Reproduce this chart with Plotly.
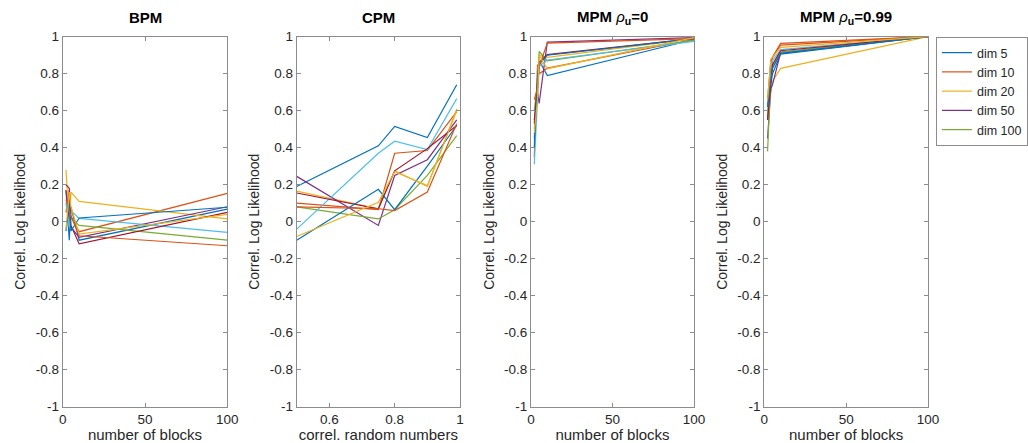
import plotly.graph_objects as go

# x values for each panel
blocks = [2, 4, 5, 10, 100]
rand_corr = [0.5, 0.75, 0.8, 0.9, 0.99]

legend_labels = ["dim 5", "dim 10", "dim 20", "dim 50", "dim 100"]

# correlation of log likelihoods, one row per run
bpm_values = [
    [0.17, -0.10, 0.08, -0.10, 0.068],
    [0.05, 0.17, 0.03, -0.054, 0.153],
    [0.28, -0.02, 0.16, 0.11, 0.015],
    [0.17, 0.00, -0.03, -0.085, 0.081],
    [0.00, 0.01, 0.02, -0.02, -0.10],
    [0.10, -0.03, 0.06, 0.018, -0.058],
    [0.20, 0.18, -0.02, -0.12, 0.05],
    [-0.05, 0.10, -0.05, 0.02, 0.078],
    [0.12, 0.05, 0.03, -0.076, -0.13],
    [-0.04, 0.16, 0.08, -0.067, 0.04],
]

cpm_values = [
    [0.19, 0.41, 0.515, 0.455, 0.74],
    [0.10, 0.065, 0.37, 0.385, 0.595],
    [0.165, 0.07, 0.275, 0.19, 0.61],
    [0.245, -0.02, 0.25, 0.335, 0.55],
    [0.08, 0.015, 0.065, 0.25, 0.465],
    [-0.04, 0.37, 0.435, 0.39, 0.665],
    [0.155, 0.07, 0.275, 0.395, 0.52],
    [-0.10, 0.175, 0.065, 0.30, 0.52],
    [0.08, 0.07, 0.06, 0.16, 0.53],
    [-0.08, 0.105, 0.27, 0.195, 0.60],
]

mpm0_values = [
    [0.45, 0.72, 0.87, 0.79, 0.985],
    [0.35, 0.85, 0.80, 0.83, 0.985],
    [0.50, 0.80, 0.90, 0.888, 0.99],
    [0.55, 0.70, 0.64, 0.971, 0.995],
    [0.60, 0.75, 0.92, 0.87, 0.98],
    [0.31, 0.68, 0.84, 0.874, 0.975],
    [0.53, 0.74, 0.86, 0.903, 0.99],
    [0.40, 0.78, 0.85, 0.90, 0.99],
    [0.66, 0.72, 0.84, 0.965, 0.99],
    [0.48, 0.66, 0.90, 0.827, 0.995],
]

mpm99_values = [
    [0.63, 0.75, 0.80, 0.906, 1.0],
    [0.56, 0.86, 0.89, 0.964, 1.0],
    [0.67, 0.70, 0.76, 0.829, 1.0],
    [0.45, 0.72, 0.74, 0.915, 1.0],
    [0.38, 0.78, 0.84, 0.915, 1.0],
    [0.60, 0.80, 0.87, 0.93, 1.0],
    [0.55, 0.74, 0.85, 0.924, 1.0],
    [0.62, 0.76, 0.83, 0.91, 1.0],
    [0.66, 0.87, 0.885, 0.955, 1.0],
    [0.66, 0.88, 0.89, 0.942, 1.0],
]

titles = ["<b>BPM</b>", "<b>CPM</b>",
          "<b>MPM </b><i>ρ</i><sub><b>u</b></sub><b>=0</b>",
          "<b>MPM </b><i>ρ</i><sub><b>u</b></sub><b>=0.99</b>"]
x_titles = ["number of blocks", "correl. random numbers",
            "number of blocks", "number of blocks"]
y_title = "Correl. Log Likelihood"

colors = ["#0072BD", "#D95319", "#EDB120", "#7E2F8E",
          "#77AC30", "#4DBEEE", "#A2142F"]

W, H = 1028, 443
panels_px = [(62.7, 227.3), (296.7, 460.0), (531.0, 694.0), (764.3, 928.0)]
top_px, bot_px = 36.7, 406.7
y_dom = [1 - bot_px / H, 1 - top_px / H]

panel_data = [
    (blocks, bpm_values, [0, 100], [0, 50, 100], ["0", "50", "100"]),
    (rand_corr, cpm_values, [0.5, 1.0], [0.6, 0.8, 1.0], ["0.6", "0.8", "1"]),
    (blocks, mpm0_values, [0, 100], [0, 50, 100], ["0", "50", "100"]),
    (blocks, mpm99_values, [0, 100], [0, 50, 100], ["0", "50", "100"]),
]

fig = go.Figure()
font_family = "Liberation Sans, Arial, sans-serif"
axis_col = "#8c8c8c"
text_col = "#262626"

yticks = [-1, -0.8, -0.6, -0.4, -0.2, 0, 0.2, 0.4, 0.6, 0.8, 1]
ytext = ["-1", "-0.8", "-0.6", "-0.4", "-0.2", "0", "0.2", "0.4", "0.6", "0.8", "1"]

for p, (xs, rows, xr, xt, xtt) in enumerate(panel_data):
    ax = "" if p == 0 else str(p + 1)
    for i, row in enumerate(rows):
        fig.add_trace(go.Scatter(
            x=xs, y=row, mode="lines",
            line=dict(color=colors[i % 7], width=1.2),
            name=legend_labels[i] if i < 5 else "",
            showlegend=(p == 3 and i < 5),
            xaxis="x" + ax, yaxis="y" + ax,
        ))
    x0, x1 = panels_px[p]
    fig.layout["xaxis" + ax] = dict(
        domain=[x0 / W, x1 / W], range=xr, anchor="y" + ax,
        tickvals=xt, ticktext=xtt, ticks="inside", ticklen=4,
        tickcolor=axis_col, showline=True, linecolor=axis_col, linewidth=1,
        mirror="ticks", showgrid=False, zeroline=False,
        tickfont=dict(size=13.5, color=text_col, family=font_family),
        title=dict(text=x_titles[p], standoff=2,
                   font=dict(size=15, color=text_col, family=font_family)),
    )
    fig.layout["yaxis" + ax] = dict(
        domain=y_dom, range=[-1, 1], anchor="x" + ax,
        tickvals=yticks, ticktext=ytext, ticks="inside", ticklen=4,
        tickcolor=axis_col, showline=True, linecolor=axis_col, linewidth=1,
        mirror="ticks", showgrid=False, zeroline=False,
        tickfont=dict(size=13.5, color=text_col, family=font_family),
        title=dict(text=y_title, standoff=6,
                   font=dict(size=14, color=text_col, family=font_family)),
    )
    fig.add_annotation(
        text=titles[p], x=(x0 + x1) / 2 / W, y=1 - 18 / H,
        xref="paper", yref="paper", showarrow=False,
        xanchor="center", yanchor="middle",
        font=dict(size=15, color="#000000", family=font_family),
    )

fig.update_layout(
    width=W, height=H,
    margin=dict(l=0, r=0, t=0, b=0, autoexpand=False),
    paper_bgcolor="white", plot_bgcolor="white",
    showlegend=True,
    legend=dict(
        x=936 / W, y=1 - 37 / H, xanchor="left", yanchor="top",
        bordercolor=axis_col, borderwidth=1, bgcolor="white",
        font=dict(size=12.5, color=text_col, family=font_family),
        tracegroupgap=0, itemwidth=30,
    ),
)

fig.write_html("out.html")
